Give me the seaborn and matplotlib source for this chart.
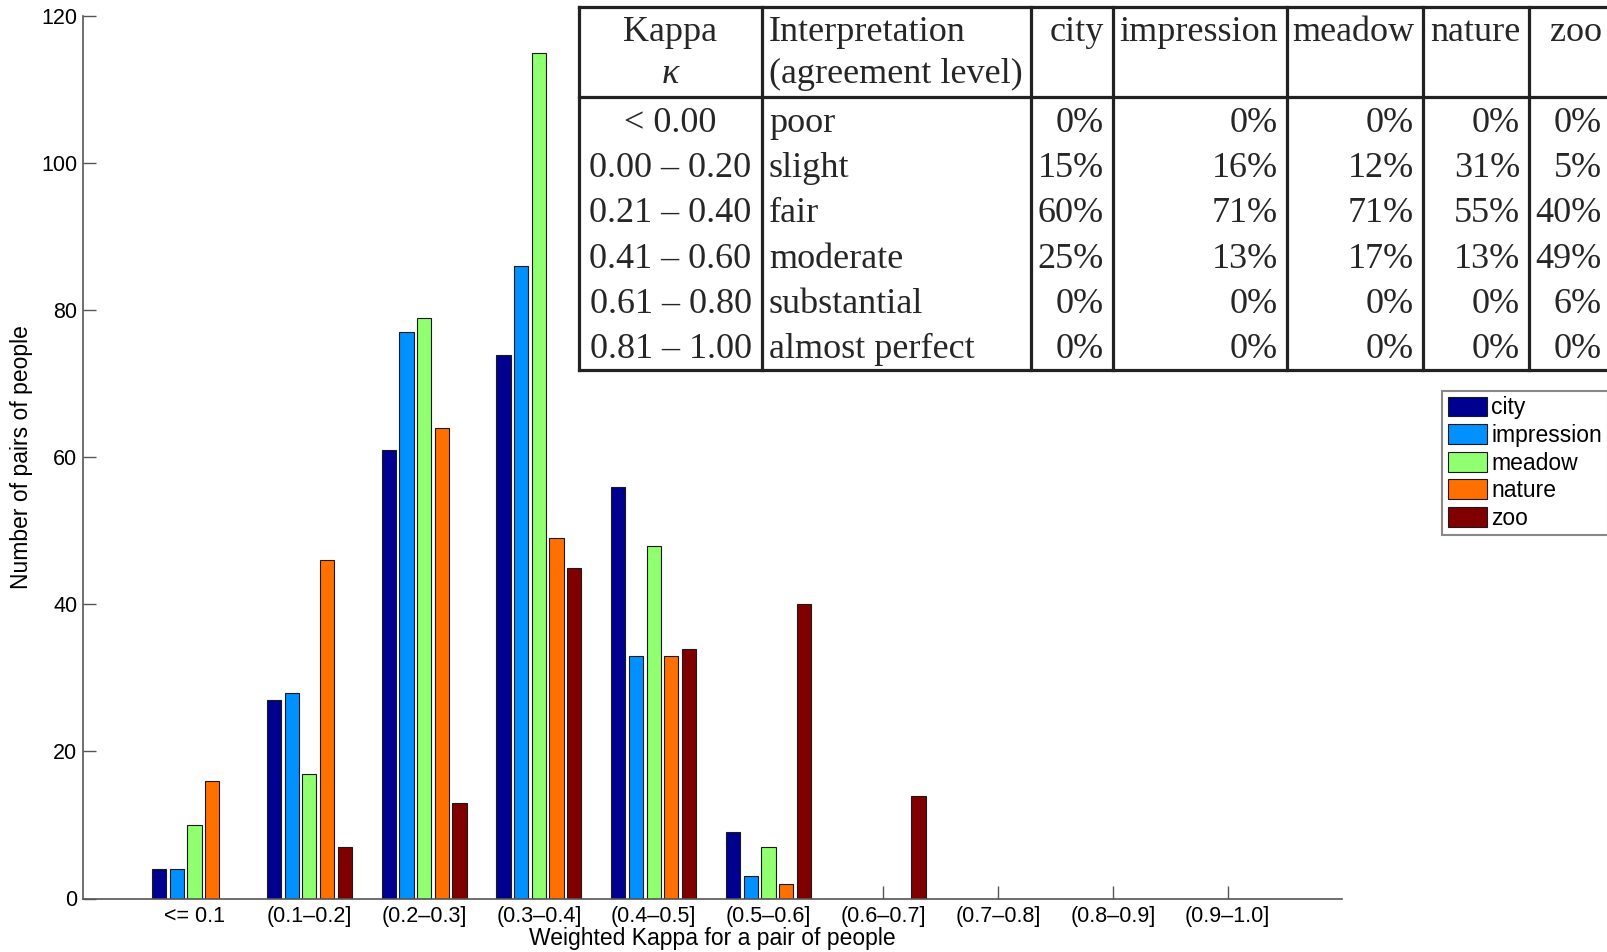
import matplotlib
matplotlib.use("Agg")
import matplotlib.pyplot as plt
from matplotlib.lines import Line2D
import pandas as pd
import seaborn as sns

# ---- histogram data: number of pairs of people per weighted-kappa bin ----
kappa_bins = ["<= 0.1", "(0.1\u20130.2]", "(0.2\u20130.3]", "(0.3\u20130.4]", "(0.4\u20130.5]",
              "(0.5\u20130.6]", "(0.6\u20130.7]", "(0.7\u20130.8]", "(0.8\u20130.9]", "(0.9\u20131.0]"]
scenes = ["city", "impression", "meadow", "nature", "zoo"]
city = [4, 27, 61, 74, 56, 9, 0, 0, 0, 0]
impression = [4, 28, 77, 86, 33, 3, 0, 0, 0, 0]
meadow = [10, 17, 79, 115, 48, 7, 0, 0, 0, 0]
nature = [16, 46, 64, 49, 33, 2, 0, 0, 0, 0]
zoo = [0, 7, 13, 45, 34, 40, 14, 0, 0, 0]
scene_colors = ["#000090", "#0090ff", "#90ff70", "#ff7000", "#800000"]

# ---- summary table: share of pairs per agreement level ----
kappa_levels = ["< 0.00", "0.00 \u2013 0.20", "0.21 \u2013 0.40", "0.41 \u2013 0.60",
                "0.61 \u2013 0.80", "0.81 \u2013 1.00"]
interpretations = ["poor", "slight", "fair", "moderate", "substantial", "almost perfect"]
city_pct = [0, 15, 60, 25, 0, 0]
impression_pct = [0, 16, 71, 13, 0, 0]
meadow_pct = [0, 12, 71, 17, 0, 0]
nature_pct = [0, 31, 55, 13, 0, 0]
zoo_pct = [0, 5, 40, 49, 6, 0]

counts = {"city": city, "impression": impression, "meadow": meadow,
          "nature": nature, "zoo": zoo}
shares = [city_pct, impression_pct, meadow_pct, nature_pct, zoo_pct]

df = pd.DataFrame(
    [(b, s, counts[s][i]) for s in scenes for i, b in enumerate(kappa_bins)],
    columns=["bin", "scene", "pairs"],
)

sns.set_theme(style="white")
plt.rcParams["font.family"] = ["Liberation Sans", "DejaVu Sans"]
plt.rcParams["text.color"] = "black"
plt.rcParams["axes.labelcolor"] = "black"

W, H = 1608, 952
fig = plt.figure(figsize=(W / 100, H / 100), dpi=100)
ax = fig.add_axes([82.7 / W, 1 - 898.5 / H, (1342.3 - 82.7) / W, (898.5 - 16.4) / H])

sns.barplot(data=df, x="bin", y="pairs", hue="scene", order=kappa_bins,
            hue_order=scenes, palette=scene_colors, saturation=1,
            width=0.77, gap=0.195, edgecolor="#1a1a1a", linewidth=0.8,
            errorbar=None, ax=ax)

ax.set_xlim(-0.975, 10.0)
ax.set_ylim(0, 120)
ax.set_yticks(range(0, 121, 20))
ax.set_xlabel("Weighted Kappa for a pair of people", fontsize=16.5, labelpad=0,
              color="black")
ax.set_ylabel("Number of pairs of people", fontsize=16.5, labelpad=6, color="black")
for side in ("top", "right"):
    ax.spines[side].set_visible(False)
for side in ("left", "bottom"):
    ax.spines[side].set_color("#555555")
    ax.spines[side].set_linewidth(1.2)
ax.tick_params(axis="both", which="major", bottom=True, left=True,
               direction="in", length=9.5, width=1.0,
               color="#555555", labelsize=15.5, labelcolor="black")
ax.tick_params(axis="x", pad=5.5)
ax.tick_params(axis="y", pad=4)

sns.move_legend(ax, "upper left", bbox_to_anchor=(1442 / W, 1 - 390.7 / H),
                bbox_transform=fig.transFigure, title=None, frameon=True,
                fancybox=False, framealpha=1, edgecolor="#888888", fontsize=16.5,
                handlelength=1.7, handleheight=0.95, labelspacing=0.2,
                handletextpad=0.2, borderpad=0.25, borderaxespad=0)
ax.get_legend().get_frame().set_linewidth(1.5)

# ---- agreement table drawn on the figure in pixel coordinates ----
def fx(px):
    return px / W


def fy(py):
    return 1 - py / H


col_edges = [579, 762, 1031, 1113, 1287, 1423, 1529, 1611]
top, header_sep, bottom = 7, 97, 370
line_kw = dict(color="#222222", lw=2.3, transform=fig.transFigure,
               solid_capstyle="projecting")
for yy in (top, header_sep, bottom):
    fig.add_artist(Line2D([fx(col_edges[0]), fx(col_edges[-1])], [fy(yy), fy(yy)], **line_kw))
for xx in col_edges:
    fig.add_artist(Line2D([fx(xx), fx(xx)], [fy(top), fy(bottom)], **line_kw))

tkw = dict(family=["Liberation Serif", "DejaVu Serif"], fontsize=26,
           color="#262626", va="baseline")
kappa_center = (col_edges[0] + col_edges[1]) / 2
head_y1, head_y2 = 41, 83
fig.text(fx(kappa_center), fy(head_y1), "Kappa", ha="center", **tkw)
fig.text(fx(kappa_center), fy(head_y2), "\u03ba", ha="center", style="italic", **tkw)
fig.text(fx(col_edges[1] + 7), fy(head_y1), "Interpretation", ha="left", **tkw)
fig.text(fx(col_edges[1] + 7), fy(head_y2), "(agreement level)", ha="left", **tkw)
for j, name in enumerate(scenes):
    fig.text(fx(col_edges[j + 3] - 9), fy(head_y1), name, ha="right", **tkw)

row_base = 132
row_step = 45.2
for i, (lvl, interp) in enumerate(zip(kappa_levels, interpretations)):
    yb = fy(row_base + i * row_step)
    fig.text(fx(kappa_center), yb, lvl, ha="center", **tkw)
    fig.text(fx(col_edges[1] + 7), yb, interp, ha="left", **tkw)
    for j, col in enumerate(shares):
        fig.text(fx(col_edges[j + 3] - 9), yb, f"{col[i]}%", ha="right", **tkw)

fig.savefig("out.png", dpi=100, facecolor="white")
